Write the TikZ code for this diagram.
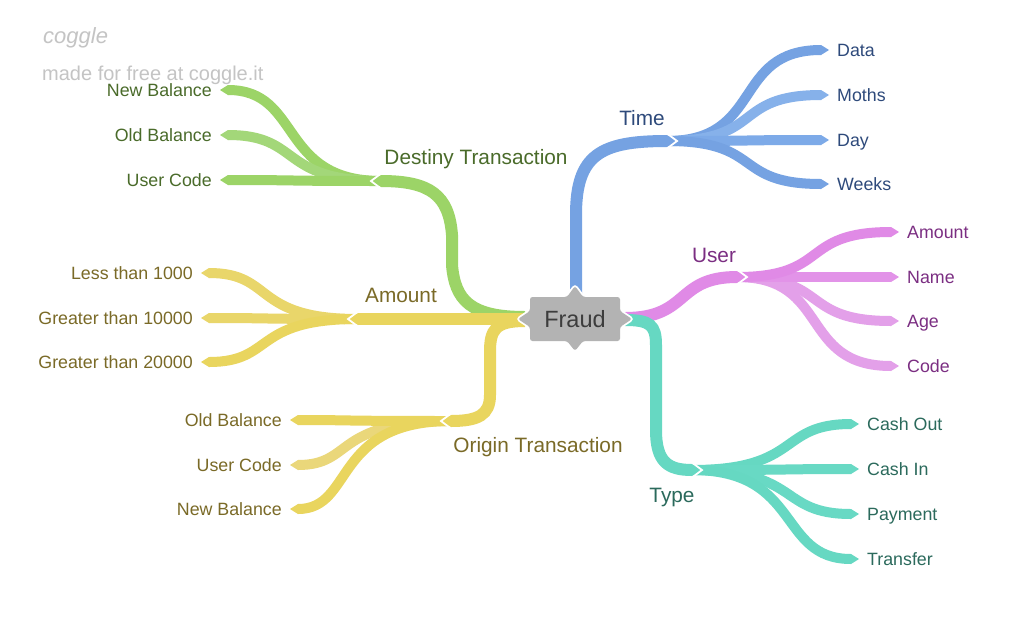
\documentclass[tikz,border=0pt]{standalone}
\usepackage{fontspec}
\setmainfont{Liberation Sans}
\usetikzlibrary{arrows.meta,backgrounds,calc}
\definecolor{cblue}{HTML}{75A2E2}
\definecolor{cbluel}{HTML}{86B1EA}
\definecolor{cbluem}{HTML}{7DAAE8}
\definecolor{cpink}{HTML}{E08AE6}
\definecolor{cpinkm}{HTML}{E293E8}
\definecolor{cpinkl}{HTML}{E3A0E9}
\definecolor{cteal}{HTML}{66D8C2}
\definecolor{ctealm}{HTML}{68D9C4}
\definecolor{cgreen}{HTML}{9CD467}
\definecolor{cgreenl}{HTML}{A3D779}
\definecolor{cyellow}{HTML}{E9D55E}
\definecolor{cyellowm}{HTML}{E9D66A}
\definecolor{cyellowl}{HTML}{EAD77A}
\definecolor{tblue}{HTML}{2E4A7B}
\definecolor{tpink}{HTML}{7B2E82}
\definecolor{tteal}{HTML}{2B6A5C}
\definecolor{tgreen}{HTML}{4A6B2A}
\definecolor{tyellow}{HTML}{7A6A27}
\definecolor{nodegray}{HTML}{B3B3B3}
\definecolor{nodetext}{HTML}{3D3D3D}
\definecolor{wm}{HTML}{C4C4C4}
\tikzset{
  mainbranch/.style={line width=12pt, -{Triangle[length=8pt,width=12pt,line width=0pt]}},
  leafbranch/.style={line width=10pt, -{Triangle[length=8pt,width=10pt,line width=0pt]}},
  leaflabel/.style={font=\fontsize{17.8}{20}\selectfont, inner sep=0pt, text height=12.7pt, text depth=0pt},
  branchlabel/.style={font=\fontsize{20.8}{24}\selectfont, inner sep=0pt, text height=14.9pt, text depth=0pt},
  cutline/.style={draw=white, line width=1.8pt, line join=miter},
}
% color, start, target node, p, q
\newcommand\strandR[5]{\draw[leafbranch,#1] let \p1=(#2), \p2=($(#3.west)+(-8,0)$) in (\p1) .. controls ({\x1+#4*(\x2-\x1)},\y1) and ({\x1+#5*(\x2-\x1)},\y2) .. (\p2);}
\newcommand\strandL[5]{\draw[leafbranch,#1] let \p1=(#2), \p2=($(#3.east)+(8,0)$) in (\p1) .. controls ({\x1+#4*(\x2-\x1)},\y1) and ({\x1+#5*(\x2-\x1)},\y2) .. (\p2);}
\newcommand\cutR[1]{\draw[cutline] ($(#1)+(-10,-9)$) -- ($(#1)+(2,0)$) -- ($(#1)+(-10,9)$);}
\newcommand\cutL[1]{\draw[cutline] ($(#1)+(10,-9)$) -- ($(#1)+(-2,0)$) -- ($(#1)+(10,9)$);}
\begin{document}
\begin{tikzpicture}[x=1pt,y=-1pt]
\useasboundingbox (0,0) rectangle (1010,619);
% watermark
\node[anchor=base west, inner sep=0pt, text=wm, font=\fontsize{22}{24}\selectfont\itshape] (logo) at (43,43) {coggle};
\node[anchor=base west, inner sep=0pt, text=wm, font=\fontsize{20}{24}\selectfont] (made) at (42,80) {made for free at coggle.it};
% central node
\node[inner sep=0pt, text height=16.5pt, text depth=0pt, font=\fontsize{23.5}{26}\selectfont, text=nodetext] (fraud) at (575,319) {Fraud};
% branch labels
\node[branchlabel, text=tblue] (ltime) at (642,118) {Time};
\node[branchlabel, text=tpink] (luser) at (714,255) {User};
\node[branchlabel, text=tteal] (ltype) at (672,495) {Type};
\node[branchlabel, text=tgreen] (ldest) at (476,157) {Destiny Transaction};
\node[branchlabel, text=tyellow] (lamount) at (401,295) {Amount};
\node[branchlabel, text=tyellow] (lorigin) at (538,445) {Origin Transaction};
% leaf labels right
\node[leaflabel, anchor=west, text=tblue] (data) at (837,50) {Data};
\node[leaflabel, anchor=west, text=tblue] (moths) at (837,95) {Moths};
\node[leaflabel, anchor=west, text=tblue] (day) at (837,140) {Day};
\node[leaflabel, anchor=west, text=tblue] (weeks) at (837,184) {Weeks};
\node[leaflabel, anchor=west, text=tpink] (uamount) at (907,232) {Amount};
\node[leaflabel, anchor=west, text=tpink] (uname) at (907,277) {Name};
\node[leaflabel, anchor=west, text=tpink] (uage) at (907,321) {Age};
\node[leaflabel, anchor=west, text=tpink] (ucode) at (907,366) {Code};
\node[leaflabel, anchor=west, text=tteal] (cashout) at (867,424) {Cash Out};
\node[leaflabel, anchor=west, text=tteal] (cashin) at (867,469) {Cash In};
\node[leaflabel, anchor=west, text=tteal] (payment) at (867,514) {Payment};
\node[leaflabel, anchor=west, text=tteal] (transfer) at (867,559) {Transfer};
% leaf labels left
\node[leaflabel, anchor=east, text=tgreen] (dnew) at (212,90) {New Balance};
\node[leaflabel, anchor=east, text=tgreen] (dold) at (212,135) {Old Balance};
\node[leaflabel, anchor=east, text=tgreen] (duser) at (212,180) {User Code};
\node[leaflabel, anchor=east, text=tyellow] (aless) at (193,273) {Less than 1000};
\node[leaflabel, anchor=east, text=tyellow] (ag10) at (193,318) {Greater than 10000};
\node[leaflabel, anchor=east, text=tyellow] (ag20) at (193,362) {Greater than 20000};
\node[leaflabel, anchor=east, text=tyellow] (oold) at (282,420) {Old Balance};
\node[leaflabel, anchor=east, text=tyellow] (ouser) at (282,465) {User Code};
\node[leaflabel, anchor=east, text=tyellow] (onew) at (282,509) {New Balance};
% junctions
\coordinate (tA) at (675,141); \coordinate (tJ) at (667,141);
\coordinate (uA) at (745,277); \coordinate (uJ) at (737,277);
\coordinate (yA) at (700,470); \coordinate (yJ) at (692,470);
\coordinate (dA) at (373,181); \coordinate (dJ) at (381,181);
\coordinate (aA) at (350,319); \coordinate (aJ) at (358,319);
\coordinate (oA) at (443,421); \coordinate (oJ) at (451,421);
\begin{pgfonlayer}{background}
\fill[white] (0,0) rectangle (1010,619);
% leaves
\strandR{cblue}{tJ}{data}{0.6}{0.4}
\strandR{cbluel}{tJ}{moths}{0.6}{0.4}
\strandR{cbluem}{tJ}{day}{0.6}{0.4}
\strandR{cblue}{tJ}{weeks}{0.6}{0.4}
\strandR{cpinkl}{uJ}{ucode}{0.58}{0.38}
\strandR{cpinkl}{uJ}{uage}{0.58}{0.38}
\strandR{cpinkm}{uJ}{uname}{0.58}{0.38}
\strandR{cpink}{uJ}{uamount}{0.58}{0.38}
\strandR{cteal}{yJ}{cashout}{0.66}{0.51}
\strandR{ctealm}{yJ}{cashin}{0.66}{0.51}
\strandR{ctealm}{yJ}{payment}{0.66}{0.51}
\strandR{cteal}{yJ}{transfer}{0.66}{0.51}
\strandL{cgreen}{dJ}{dnew}{0.64}{0.49}
\strandL{cgreenl}{dJ}{dold}{0.64}{0.49}
\strandL{cgreen}{dJ}{duser}{0.64}{0.49}
\strandL{cyellowm}{aJ}{aless}{0.68}{0.53}
\strandL{cyellowm}{aJ}{ag10}{0.68}{0.53}
\strandL{cyellow}{aJ}{ag20}{0.68}{0.53}
\strandL{cyellowl}{oJ}{ouser}{0.74}{0.6}
\strandL{cyellow}{oJ}{onew}{0.74}{0.6}
\strandL{cyellow}{oJ}{oold}{0.74}{0.6}
% main branches
\draw[mainbranch,cgreen] (525,317) .. controls (470,317) and (455,300) .. (452,265) -- (452,235) .. controls (449,195) and (430,181) .. (dA);
\draw[mainbranch,cyellow] (525,321) .. controls (495,321) and (490,330) .. (490,352) -- (490,395) .. controls (490,415) and (478,421) .. (oA);
\draw[mainbranch,cyellow] (525,319) -- (aA);
\draw[mainbranch,cblue] (576,300) -- (576,215) .. controls (576,155) and (600,141) .. (tA);
\draw[mainbranch,cpink] (625,318) .. controls (690,318) and (675,277) .. (uA);
\draw[mainbranch,cteal] (625,320) .. controls (650,320) and (656,325) .. (656,345) -- (656,430) .. controls (656,462) and (668,470) .. (yA);
% notches
\cutR{tA} \cutR{uA} \cutR{yA}
\cutL{dA} \cutL{aA} \cutL{oA}
% node shape
\begin{scope}[shift={(fraud.center)}]
\path[draw=white, fill=white, line width=3.6pt, rounded corners=2.5pt] (-45,-22) -- (-8,-22) -- (0,-33) -- (8,-22) -- (45,-22) -- (45,-8) -- (57,0) -- (45,8) -- (45,22) -- (8,22) -- (0,32) -- (-8,22) -- (-45,22) -- (-45,8) -- (-57,0) -- (-45,-8) -- cycle;
\path[fill=nodegray, rounded corners=2.5pt] (-45,-22) -- (-8,-22) -- (0,-33) -- (8,-22) -- (45,-22) -- (45,-8) -- (57,0) -- (45,8) -- (45,22) -- (8,22) -- (0,32) -- (-8,22) -- (-45,22) -- (-45,8) -- (-57,0) -- (-45,-8) -- cycle;
\end{scope}
\end{pgfonlayer}
\end{tikzpicture}
\end{document}
